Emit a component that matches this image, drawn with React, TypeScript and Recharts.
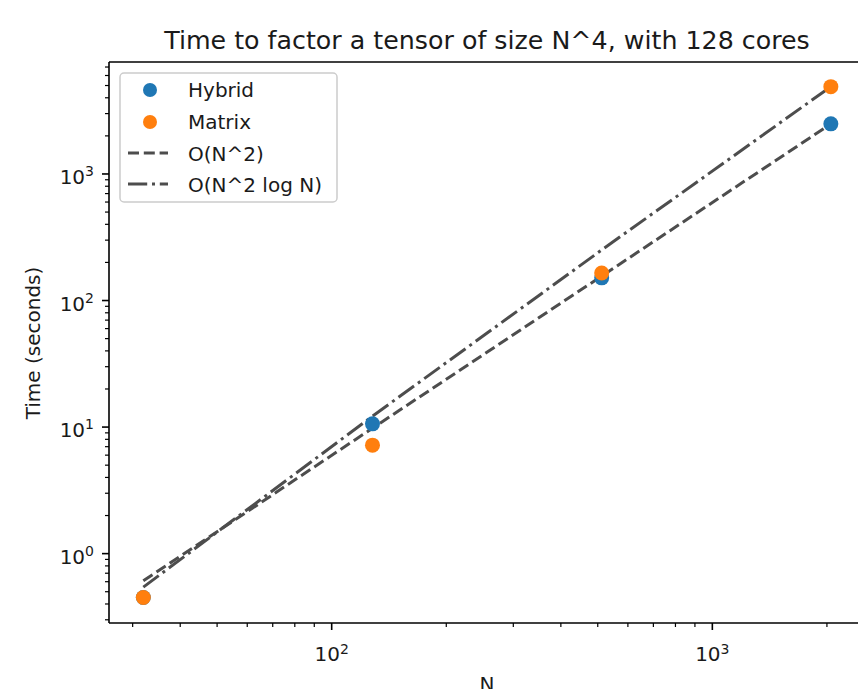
import React from "react";
import {
  ComposedChart,
  Scatter,
  Line,
  XAxis,
  YAxis,
  Legend,
  ReferenceLine,
} from "recharts";

// tensor side length N
const sizes = [32, 128, 512, 2048];
// measured run times (seconds)
const hybridTimes = [0.45, 10.6, 151, 2490];
const matrixTimes = [0.45, 7.2, 165, 4900];
// reference curves as drawn
const quadraticRef = [0.61, 9.8, 156, 2490];
const quadraticLogRef = [0.544, 12.2, 251, 4900];

const xTicks = [
  30, 40, 50, 60, 70, 80, 90, 100, 200, 300, 400, 500, 600, 700, 800, 900,
  1000, 2000,
];
const yTicks = [
  0.3, 0.4, 0.5, 0.6, 0.7, 0.8, 0.9, 1, 2, 3, 4, 5, 6, 7, 8, 9, 10, 20, 30,
  40, 50, 60, 70, 80, 90, 100, 200, 300, 400, 500, 600, 700, 800, 900, 1000,
  2000, 3000, 4000, 5000, 6000, 7000,
];

const X_DOMAIN: [number, number] = [26.0, 2518];
const Y_DOMAIN: [number, number] = [0.283, 7670];

const BLUE = "#1f77b4";
const ORANGE = "#ff7f0e";
const REF_LINE = "#4d4d4d";
const TEXT = "#1a1a1a";
const FONT = "DejaVu Sans, sans-serif";

const table = sizes.map((n, i) => ({
  n,
  hybrid: hybridTimes[i],
  matrix: matrixTimes[i],
  quad: quadraticRef[i],
  quadLog: quadraticLogRef[i],
}));

function decade(v: number) {
  const e = Math.log10(v);
  return Math.abs(e - Math.round(e)) < 1e-9 ? Math.round(e) : null;
}

function XTick(props: any) {
  const { x, y, payload } = props;
  const exp = decade(payload.value);
  const major = exp !== null;
  return (
    <g>
      <line
        x1={x}
        x2={x}
        y1={y}
        y2={y + (major ? 7 : 4)}
        stroke="#000"
        strokeWidth={major ? 1.6 : 1.2}
      />
      {major && (
        <text
          x={x}
          y={y + 38}
          textAnchor="middle"
          fontSize={20}
          fontFamily={FONT}
          fill={TEXT}
        >
          <tspan>10</tspan>
          <tspan dy={-7} fontSize={14}>
            {exp}
          </tspan>
        </text>
      )}
    </g>
  );
}

function YTick(props: any) {
  const { x, y, payload } = props;
  const exp = decade(payload.value);
  const major = exp !== null;
  return (
    <g>
      <line
        x1={x}
        x2={x - (major ? 7 : 4)}
        y1={y}
        y2={y}
        stroke="#000"
        strokeWidth={major ? 1.6 : 1.2}
      />
      {major && (
        <text
          x={x - 15}
          y={y + 10}
          textAnchor="end"
          fontSize={20}
          fontFamily={FONT}
          fill={TEXT}
        >
          <tspan>10</tspan>
          <tspan dy={-8} fontSize={14}>
            {exp}
          </tspan>
        </text>
      )}
    </g>
  );
}

function LegendBox() {
  const label = { fontSize: 20, fontFamily: FONT, fill: TEXT };
  return (
    <svg width={219} height={131}>
      <rect
        x={1}
        y={1}
        width={217}
        height={129}
        rx={4}
        fill="#fff"
        fillOpacity={0.8}
        stroke="#cccccc"
        strokeWidth={1.5}
      />
      <circle cx={31} cy={18} r={7} fill={BLUE} />
      <text x={69} y={24.5} {...label}>Hybrid</text>
      <circle cx={31} cy={50} r={7} fill={ORANGE} />
      <text x={69} y={56.5} {...label}>Matrix</text>
      <line
        x1={9}
        x2={49}
        y1={81}
        y2={81}
        stroke={REF_LINE}
        strokeWidth={3}
        strokeDasharray="11 4.8"
      />
      <text x={69} y={88.5} {...label}>O(N^2)</text>
      <line
        x1={9}
        x2={49}
        y1={112}
        y2={112}
        stroke={REF_LINE}
        strokeWidth={3}
        strokeDasharray="19.2 4.8 3 4.8"
      />
      <text x={69} y={120} {...label}>O(N^2 log N)</text>
    </svg>
  );
}

export default function App() {
  return (
    <div
      style={{
        position: "fixed",
        left: 0,
        top: 0,
        width: 858,
        height: 689,
        overflow: "hidden",
        background: "#fff",
        fontFamily: FONT,
      }}
    >
      <div
        style={{
          position: "absolute",
          left: 0,
          width: 974,
          top: 28,
          textAlign: "center",
          fontSize: 25.3,
          lineHeight: "25px",
          color: TEXT,
          whiteSpace: "nowrap",
        }}
      >
        Time to factor a tensor of size N^4, with 128 cores
      </div>
      <div
        style={{
          position: "absolute",
          left: 32.5,
          top: 342.5,
          transform: "translate(-50%, -50%) rotate(-90deg)",
          fontSize: 20,
          lineHeight: "20px",
          color: TEXT,
          whiteSpace: "nowrap",
        }}
      >
        Time (seconds)
      </div>
      <div
        style={{
          position: "absolute",
          left: 0,
          width: 974,
          top: 674,
          textAlign: "center",
          fontSize: 20,
          lineHeight: "20px",
          color: TEXT,
        }}
      >
        N
      </div>
      <div style={{ position: "absolute", left: 0, top: 0 }}>
        <ComposedChart
          width={900}
          height={689}
          data={table}
          margin={{ top: 62, right: 35, bottom: 0, left: 0 }}
        >
          <XAxis
            dataKey="n"
            type="number"
            scale="log"
            domain={X_DOMAIN}
            allowDataOverflow
            ticks={xTicks}
            interval={0}
            tickLine={false}
            tickSize={0}
            tickMargin={0}
            tick={(p: any) => <XTick {...p} />}
            axisLine={{ stroke: "#000", strokeWidth: 1.6 }}
            height={66}
          />
          <YAxis
            type="number"
            scale="log"
            domain={Y_DOMAIN}
            allowDataOverflow
            ticks={yTicks}
            interval={0}
            tickLine={false}
            tickSize={0}
            tickMargin={0}
            tick={(p: any) => <YTick {...p} />}
            axisLine={{ stroke: "#000", strokeWidth: 1.6 }}
            width={109}
          />
          <ReferenceLine y={Y_DOMAIN[1]} stroke="#000" strokeWidth={1.6} />
          <ReferenceLine x={X_DOMAIN[1]} stroke="#000" strokeWidth={1.6} />
          <Scatter
            dataKey="hybrid"
            fill={BLUE}
            isAnimationActive={false}
            shape={(p: any) => <circle cx={p.cx} cy={p.cy} r={7.5} fill={BLUE} />}
          />
          <Scatter
            dataKey="matrix"
            fill={ORANGE}
            isAnimationActive={false}
            shape={(p: any) => (
              <circle cx={p.cx} cy={p.cy} r={7.5} fill={ORANGE} />
            )}
          />
          <Line
            dataKey="quad"
            stroke={REF_LINE}
            strokeWidth={3}
            strokeDasharray="11 4.8"
            dot={false}
            activeDot={false}
            isAnimationActive={false}
          />
          <Line
            dataKey="quadLog"
            stroke={REF_LINE}
            strokeWidth={3}
            strokeDasharray="19.2 4.8 3 4.8"
            dot={false}
            activeDot={false}
            isAnimationActive={false}
          />
          <Legend
            layout="vertical"
            align="center"
            verticalAlign="middle"
            wrapperStyle={{ left: 119, top: 72, width: 219, height: 131 }}
            content={() => <LegendBox />}
          />
        </ComposedChart>
      </div>
    </div>
  );
}
